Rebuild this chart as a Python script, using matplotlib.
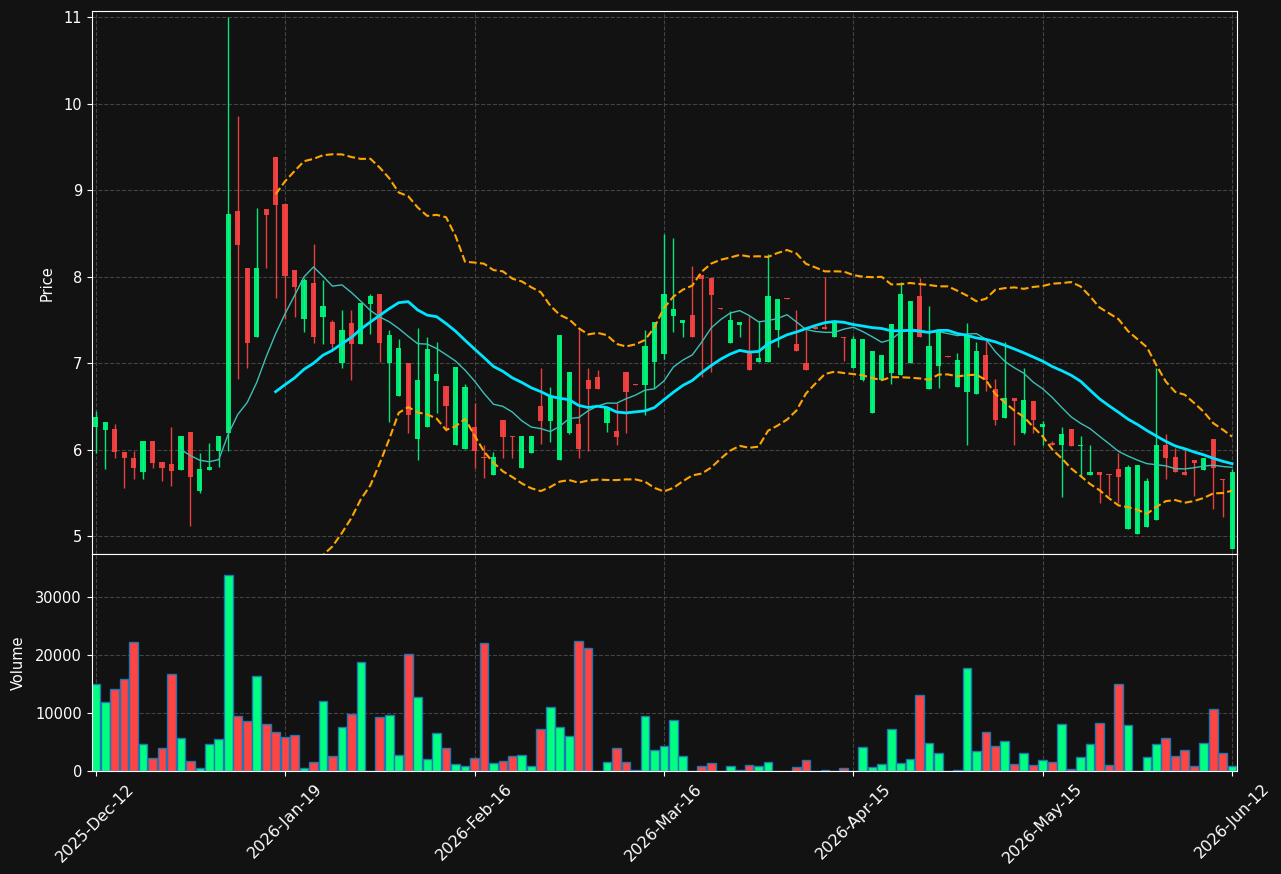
import numpy as np
import pandas as pd
import matplotlib
matplotlib.use("Agg")
import matplotlib.pyplot as plt

# daily OHLCV
opens = [6.26, 6.23, 6.24, 5.98, 5.91, 5.74, 6.10, 5.86, 5.84, 5.77,
         6.21, 5.52, 5.77, 5.99, 6.20, 8.76, 8.10, 7.30, 8.78, 9.39,
         8.84, 8.08, 7.51, 7.93, 7.54, 7.48, 7.00, 7.47, 7.22, 7.69,
         7.80, 7.00, 6.62, 7.00, 6.13, 6.26, 6.80, 6.74, 6.05, 6.01,
         6.26, 5.92, 5.71, 6.35, 6.16, 5.79, 5.96, 6.51, 6.33, 5.88,
         6.20, 6.30, 6.81, 6.84, 6.31, 6.22, 6.90, 6.76, 6.75, 7.02,
         7.11, 7.55, 7.47, 7.56, 8.02, 7.99, 7.64, 7.24, 7.44, 7.12,
         7.02, 7.02, 7.38, 7.75, 7.22, 7.00, 7.42, 7.42, 7.30, 7.30,
         6.95, 6.81, 6.43, 6.81, 6.89, 6.87, 7.00, 7.78, 6.70, 6.97,
         7.09, 6.73, 6.67, 6.64, 7.10, 6.70, 6.37, 6.60, 6.20, 6.57,
         6.26, 6.08, 6.05, 6.24, 6.04, 5.71, 5.74, 5.72, 5.78, 5.09,
         5.03, 5.11, 5.19, 6.05, 5.92, 5.74, 5.88, 5.77, 6.13, 5.66,
         4.85]
highs = [6.45, 6.32, 6.30, 5.98, 5.99, 6.10, 6.10, 5.86, 6.26, 6.16,
         6.21, 5.96, 6.08, 6.16, 11.00, 9.86, 8.10, 8.80, 8.78, 9.39,
         8.84, 8.08, 7.99, 8.38, 7.96, 7.50, 7.62, 7.62, 7.70, 7.80,
         7.80, 7.38, 7.28, 7.00, 7.41, 7.30, 7.25, 6.74, 6.96, 6.76,
         6.54, 6.06, 5.97, 6.35, 6.16, 6.16, 6.16, 6.94, 6.73, 7.33,
         6.90, 7.41, 6.95, 6.92, 6.49, 6.54, 6.90, 6.76, 7.39, 7.48,
         8.50, 8.45, 7.50, 8.12, 8.02, 7.99, 7.64, 7.60, 7.48, 7.55,
         7.49, 8.26, 7.74, 7.75, 7.62, 7.39, 7.42, 8.00, 7.48, 7.30,
         7.31, 7.28, 7.14, 7.10, 7.45, 7.94, 7.72, 7.99, 7.66, 7.38,
         7.09, 7.12, 7.47, 7.25, 7.27, 6.82, 7.25, 6.60, 6.95, 6.57,
         6.33, 6.10, 6.26, 6.24, 6.16, 6.05, 5.74, 5.72, 5.96, 5.83,
         5.83, 5.67, 6.94, 6.18, 6.02, 6.00, 5.88, 5.91, 6.13, 5.66,
         5.78]
lows = [5.96, 5.78, 5.90, 5.56, 5.66, 5.66, 5.79, 5.64, 5.58, 5.77,
        5.12, 5.50, 5.77, 5.80, 5.99, 6.82, 6.95, 7.30, 8.10, 7.76,
        7.51, 7.54, 7.36, 7.24, 7.22, 7.17, 6.95, 6.81, 7.22, 7.34,
        7.02, 6.32, 6.62, 6.20, 5.88, 6.26, 6.42, 6.22, 6.05, 6.01,
        5.79, 5.67, 5.71, 5.91, 5.90, 5.79, 5.96, 6.07, 6.09, 5.88,
        6.18, 5.91, 5.99, 6.70, 6.21, 6.05, 6.20, 6.75, 6.40, 6.71,
        7.05, 7.36, 7.30, 7.30, 6.84, 6.90, 7.63, 7.24, 7.30, 6.92,
        7.02, 7.02, 7.19, 7.74, 7.14, 6.92, 7.40, 7.40, 7.30, 7.03,
        6.95, 6.80, 6.43, 6.81, 6.76, 6.87, 7.00, 7.30, 6.70, 6.72,
        7.07, 6.73, 6.06, 6.64, 6.68, 6.29, 6.37, 6.05, 6.18, 6.20,
        6.06, 6.05, 5.45, 6.04, 5.70, 5.71, 5.39, 5.47, 5.38, 5.09,
        5.03, 5.11, 5.19, 5.66, 5.74, 5.71, 5.47, 5.77, 5.31, 5.22,
        4.85]
closes = [6.38, 6.32, 5.97, 5.91, 5.79, 6.10, 5.85, 5.79, 5.75, 6.16,
          5.69, 5.78, 5.80, 6.16, 8.73, 8.37, 7.24, 8.10, 8.72, 8.83,
          8.01, 7.88, 7.96, 7.30, 7.66, 7.22, 7.39, 7.22, 7.70, 7.78,
          7.24, 7.33, 7.18, 6.40, 6.81, 7.17, 6.88, 6.51, 6.96, 6.73,
          5.99, 5.90, 5.92, 6.15, 6.15, 6.16, 6.16, 6.33, 6.62, 7.33,
          6.90, 6.01, 6.70, 6.70, 6.49, 6.15, 6.67, 6.75, 7.20, 7.48,
          7.80, 7.63, 7.50, 7.30, 7.98, 7.79, 7.63, 7.50, 7.48, 6.92,
          7.06, 7.78, 7.74, 7.74, 7.14, 6.92, 7.40, 7.40, 7.48, 7.29,
          7.28, 7.28, 7.14, 7.10, 7.45, 7.80, 7.72, 7.30, 7.20, 7.38,
          7.07, 7.04, 7.33, 7.14, 6.81, 6.35, 6.60, 6.56, 6.58, 6.34,
          6.30, 6.05, 6.18, 6.04, 6.06, 5.74, 5.71, 5.71, 5.69, 5.80,
          5.83, 5.64, 6.06, 5.90, 5.74, 5.71, 5.85, 5.90, 5.79, 5.65,
          5.74]
volumes = [15000, 12000, 14250, 16000, 22350, 4770, 2360, 4080, 16840, 5800,
           1840, 630, 4770, 5630, 33900, 9600, 8730, 16500, 8220, 6840,
           5980, 6320, 630, 1670, 12180, 2700, 7700, 9940, 18900, 0,
           9430, 9770, 2870, 20290, 12870, 2180, 6670, 4080, 1320, 980,
           2360, 22180, 1490, 1840, 2700, 2870, 980, 7360, 11150, 7700,
           6150, 22530, 21320, 0, 1670, 4080, 1670, 290, 9600, 3740,
           4430, 8910, 2700, 120, 980, 1490, 0, 980, 290, 1150,
           980, 1670, 100, 0, 800, 2010, 100, 290, 0, 630,
           100, 4250, 800, 1320, 7360, 1490, 2180, 13220, 4940, 3220,
           100, 290, 17870, 3560, 6840, 4430, 5290, 1320, 3220, 1150,
           2010, 1670, 8220, 460, 2530, 4770, 8390, 1150, 15120, 8050,
           100, 2530, 4770, 5800, 2700, 3740, 980, 4940, 10800, 3220,
           980]
tick_pos = [0, 20, 40, 60, 80, 100, 120]
tick_labels = ['2025-Dec-12', '2026-Jan-19', '2026-Feb-16', '2026-Mar-16',
               '2026-Apr-15', '2026-May-15', '2026-Jun-12']

df = pd.DataFrame({'open': opens, 'high': highs, 'low': lows,
                   'close': closes, 'volume': volumes})
x = np.arange(len(df))
ma10 = df['close'].rolling(10).mean()
ma20 = df['close'].rolling(20).mean()
sd20 = df['close'].rolling(20).std(ddof=0)
upper = ma20 + 2 * sd20
lower = ma20 - 2 * sd20

bg = '#121212'
up_c = '#00ff80'
dn_c = '#ff4444'
up = df['close'] >= df['open']
colors = np.where(up, up_c, dn_c)

fig = plt.figure(figsize=(12.81, 8.74), dpi=100, facecolor=bg)
ax = fig.add_axes([0.0716, 0.3661, 0.8943, 0.6210])
axv = fig.add_axes([0.0716, 0.1175, 0.8943, 0.2486], sharex=ax)

for a in (ax, axv):
    a.set_facecolor(bg)
    for s in a.spines.values():
        s.set_color('white')
    a.tick_params(colors='white', labelsize=10.5)
    a.grid(True, color='#444444', linestyle='--', linewidth=0.8)
    a.set_axisbelow(True)

# candles
body_lo = np.minimum(df['open'], df['close'])
body_h = np.maximum((df['close'] - df['open']).abs(), 0.015)
ax.vlines(x, df['low'], df['high'], colors=colors, linewidth=1, alpha=0.9)
ax.bar(x, body_h, bottom=body_lo, width=0.55, color=colors, alpha=0.9,
       linewidth=0)

ax.plot(x, ma10, color='#3cc0b4', linewidth=1)
ax.plot(x, ma20, color='#00e5ff', linewidth=2)
ax.plot(x, upper, color='#ffa500', linestyle='--', linewidth=1.5)
ax.plot(x, lower, color='#ffa500', linestyle='--', linewidth=1.5)

ax.set_ylim(4.795, 11.07)
ax.set_ylabel('Price', color='white', fontsize=10.5, labelpad=6)
ax.tick_params(axis='x', labelbottom=False)

axv.bar(x, df['volume'], width=0.92, color=colors, edgecolor='#1f77b4',
        linewidth=1)
axv.set_ylim(0, 37465)
axv.set_ylabel('Volume', color='white', fontsize=10.5, labelpad=7)
axv.set_xlim(-0.42, 120.55)
axv.set_xticks(tick_pos)
axv.set_xticklabels(tick_labels, rotation=45, fontsize=11.5)

fig.savefig('out.png', dpi=100, facecolor=bg)
